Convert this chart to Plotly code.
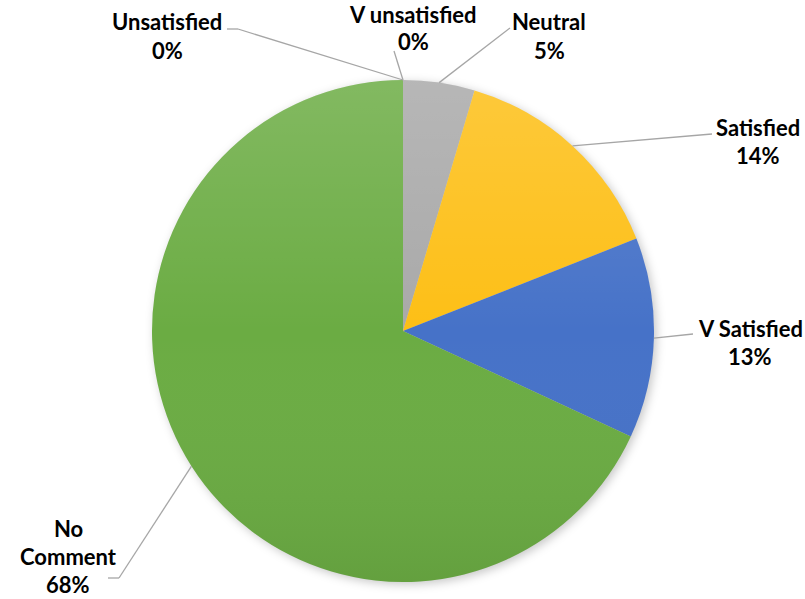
import math
import base64
import plotly.graph_objects as go

# ---- data ----
categories = ["Neutral", "Satisfied", "V Satisfied", "No Comment", "Unsatisfied", "V unsatisfied"]
values = [4.6, 14.4, 12.9, 68.1, 0.0, 0.0]
pct_labels = ["5%", "14%", "13%", "68%", "0%", "0%"]
colors = ["#A9A9A9", "#FDBF16", "#4672C8", "#6BAC43", "#ED7D31", "#5B9BD5"]

# ---- layout (pixels) ----
W, H = 805, 599
CX, CY, R = 403, 331, 251

# label placement: text lines, centre x, y of each line, leader points from label side
label_layout = {
    "Neutral":       dict(lines=["Neutral"], cx=549, ys=[22, 50], tail=[(510, 28)]),
    "Satisfied":     dict(lines=["Satisfied"], cx=758, ys=[127, 155], tail=[(712, 134)]),
    "V Satisfied":   dict(lines=["V Satisfied"], cx=750, ys=[328, 356], tail=[(693, 334)]),
    "No Comment":    dict(lines=["No", "Comment"], cx=68, ys=[528, 556, 584], tail=[(119, 578), (108, 578)]),
    "Unsatisfied":   dict(lines=["Unsatisfied"], cx=167, ys=[22, 50], tail=[(238, 29), (227, 29)]),
    "V unsatisfied": dict(lines=["V unsatisfied"], cx=413, ys=[14, 42], tail=[(394, 51)]),
}

FONT = "Lato, 'Open Sans', sans-serif"


def px(x, y):
    return x / W, 1 - y / H


fig = go.Figure(go.Pie(
    labels=categories,
    values=values,
    sort=False,
    direction="clockwise",
    rotation=0,
    marker=dict(colors=colors, line=dict(width=0)),
    textinfo="none",
    hoverinfo="label+percent",
    showlegend=False,
    domain=dict(x=[(CX - R) / W, (CX + R) / W], y=[1 - (CY + R) / H, 1 - (CY - R) / H]),
))

shapes = []
annotations = []
total = sum(values)
cum = 0.0
for cat, v, pct in zip(categories, values, pct_labels):
    mid = (cum + v / 2) / total * 2 * math.pi
    cum += v
    ex = CX + R * math.sin(mid)
    ey = CY - R * math.cos(mid)
    info = label_layout[cat]
    pts = [(ex, ey)] + info["tail"]
    for (x0, y0), (x1, y1) in zip(pts[:-1], pts[1:]):
        a0, b0 = px(x0, y0)
        a1, b1 = px(x1, y1)
        shapes.append(dict(type="line", xref="paper", yref="paper",
                           x0=a0, y0=b0, x1=a1, y1=b1,
                           line=dict(color="#A6A6A6", width=1.3)))
    lines = info["lines"] + [pct]
    for txt, yy in zip(lines, info["ys"]):
        ax, ay = px(info["cx"], yy)
        annotations.append(dict(text="<b>" + txt + "</b>", x=ax, y=ay, xref="paper", yref="paper",
                                xanchor="center", yanchor="middle", showarrow=False,
                                font=dict(family=FONT, size=22, color="#000000")))

# decorative vertical shading (Excel-style gradient) and soft shadow
grad_svg = (
    '<svg xmlns="http://www.w3.org/2000/svg" width="200" height="200" viewBox="0 0 200 200">'
    '<defs><linearGradient id="g" x1="0" y1="0" x2="0" y2="1">'
    '<stop offset="0" stop-color="#ffffff" stop-opacity="0.16"/>'
    '<stop offset="0.5" stop-color="#ffffff" stop-opacity="0"/>'
    '<stop offset="1" stop-color="#000000" stop-opacity="0.07"/>'
    '</linearGradient></defs>'
    '<circle cx="100" cy="100" r="100" fill="url(#g)"/></svg>'
)
shadow_svg = (
    '<svg xmlns="http://www.w3.org/2000/svg" width="220" height="220" viewBox="0 0 220 220">'
    '<defs><filter id="f" x="-20%" y="-20%" width="140%" height="140%">'
    '<feGaussianBlur stdDeviation="2"/></filter></defs>'
    '<circle cx="111" cy="111" r="100" fill="#000000" fill-opacity="0.22" filter="url(#f)"/></svg>'
)


def uri(svg):
    return "data:image/svg+xml;base64," + base64.b64encode(svg.encode()).decode()


images = [
    dict(source=uri(shadow_svg), xref="paper", yref="paper",
         x=(CX - R * 1.1) / W, y=1 - (CY - R * 1.1) / H,
         sizex=2.2 * R / W, sizey=2.2 * R / H, sizing="stretch",
         xanchor="left", yanchor="top", layer="below"),
    dict(source=uri(grad_svg), xref="paper", yref="paper",
         x=(CX - R) / W, y=1 - (CY - R) / H,
         sizex=2 * R / W, sizey=2 * R / H, sizing="stretch",
         xanchor="left", yanchor="top", layer="above"),
]

fig.update_layout(
    width=W, height=H,
    margin=dict(l=0, r=0, t=0, b=0),
    paper_bgcolor="white",
    plot_bgcolor="white",
    shapes=shapes,
    annotations=annotations,
    images=images,
)

fig.write_html("out.html", config={"displayModeBar": False},
               post_script="document.body.style.margin='0';")
